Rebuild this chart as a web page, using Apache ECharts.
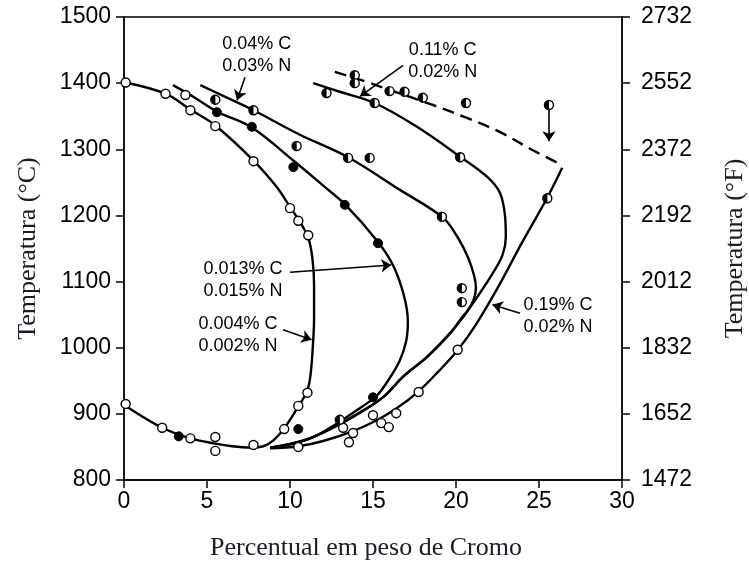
<!DOCTYPE html>
<html>
<head>
<meta charset="utf-8">
<script src="https://cdn.jsdelivr.net/npm/echarts@6/dist/echarts.min.js"></script>
<style>
  html, body { margin: 0; padding: 0; background: #fff; }
  #chart { width: 749px; height: 568px; }
</style>
</head>
<body>
<div id="chart"></div>
<script>
// Gamma-loop boundaries of Fe-Cr alloys: temperature (°C) vs. chromium content (wt %)

const xTicks = [0, 5, 10, 15, 20, 25, 30];
const celsiusTicks = [800, 900, 1000, 1100, 1200, 1300, 1400, 1500];
const fahrenheitTicks = [1472, 1652, 1832, 2012, 2192, 2372, 2552, 2732];

// 0.004% C, 0.002% N (includes the shared lower branch back to 0% Cr)
const curve004C = [
  [0.1, 1401], [2.5, 1384], [4.0, 1360], [5.5, 1336], [7.8, 1283], [9.2, 1243],
  [10.0, 1213], [10.6, 1190], [11.1, 1166], [11.35, 1135], [11.45, 1095],
  [11.45, 1045], [11.4, 1012], [11.25, 962], [11.05, 936], [10.5, 911],
  [9.65, 878], [9.0, 860], [8.4, 851], [7.6, 849], [6.5, 851], [5.5, 855],
  [4.0, 863], [2.3, 879], [0.1, 912]
];

// 0.013% C, 0.015% N
const curve013C = [
  [2.95, 1397], [4.2, 1379], [5.6, 1357], [7.7, 1333], [10.2, 1283], [12.0, 1245],
  [13.3, 1217], [15.3, 1160], [16.2, 1125], [16.85, 1080], [17.1, 1040],
  [17.0, 1010], [16.6, 980], [15.9, 950], [15.2, 927], [14.0, 905],
  [12.8, 885], [11.5, 866], [10.2, 855], [8.8, 849]
];

// 0.04% C, 0.03% N (merges into the 0.11% C branch below ~1085 °C)
const curve04C = [
  [4.6, 1397], [6.2, 1378], [7.8, 1359], [10.6, 1322], [13.5, 1288], [16.6, 1239],
  [19.2, 1197], [20.1, 1167], [20.75, 1135], [21.1, 1108], [21.2, 1090],
  [21.05, 1072], [20.7, 1056], [20.3, 1044], [19.7, 1023], [18.3, 987], [16.85, 957],
  [15.65, 926], [14.3, 903], [12.9, 883], [11.3, 864], [9.9, 854], [8.8, 849]
];

// 0.11% C, 0.02% N
const curve11C = [
  [11.4, 1400], [13.0, 1387], [15.1, 1370], [17.65, 1334], [20.24, 1289],
  [21.9, 1258], [22.65, 1234], [22.95, 1200], [23.0, 1167], [22.8, 1140],
  [22.2, 1112], [21.45, 1083], [20.42, 1046], [19.64, 1022], [18.25, 986],
  [16.8, 956], [15.6, 925], [14.2, 902], [12.8, 882], [11.2, 863],
  [9.8, 853], [8.8, 849]
];

// 0.19% C, 0.02% N: solid boundary and dashed upper estimate
const curve19C = [
  [26.4, 1272], [25.48, 1226], [24.0, 1160], [22.5, 1090], [21.2, 1035],
  [20.12, 997], [18.9, 963], [17.7, 933], [16.4, 908], [15.2, 890],
  [13.8, 874], [12.0, 859], [10.5, 851], [8.8, 848]
];
const curve19CUpper = [
  [12.7, 1417], [14.5, 1403], [16.2, 1388], [18.6, 1367], [20.7, 1347],
  [22.65, 1326], [24.6, 1299], [26.4, 1276]
];

// Measured points
const openPoints = [
  [0.1, 1401], [2.5, 1384], [3.7, 1382], [4.0, 1359], [5.5, 1335], [7.8, 1282],
  [10.0, 1211], [10.5, 1192], [11.1, 1170], [11.05, 932], [10.5, 912],
  [9.65, 877], [7.8, 853], [5.5, 865], [5.5, 844], [4.0, 863], [2.3, 879],
  [0.1, 915], [10.5, 850], [13.2, 879], [13.8, 871], [13.55, 857], [15.0, 898],
  [15.5, 886], [15.95, 880], [16.4, 901], [17.75, 933], [20.1, 997]
];
const filledPoints = [
  [3.3, 866], [5.6, 1356], [7.7, 1334], [10.2, 1273], [13.3, 1216],
  [15.3, 1158], [15.0, 925], [10.5, 877]
];
const halfPoints = [
  [5.5, 1375], [10.4, 1305], [7.8, 1359], [13.5, 1287], [14.8, 1287],
  [19.15, 1198], [20.35, 1090], [20.35, 1069], [12.2, 1385], [15.1, 1370],
  [20.25, 1288], [13.9, 1412], [13.9, 1400], [16.0, 1388], [16.9, 1387],
  [18.0, 1378], [20.6, 1370], [25.6, 1367], [25.5, 1226], [13.0, 891]
];

// Curve labels and their pointer arrows
const curveLabels = ['0.04% C\n0.03% N', '0.11% C\n0.02% N', '0.013% C\n0.015% N',
                     '0.004% C\n0.002% N', '0.19% C\n0.02% N'];
const labelAnchors = [[8.0, 1443], [19.2, 1433], [7.17, 1102], [6.87, 1019], [26.14, 1048]];
const arrowPaths = [
  [[7.29, 1409], [6.81, 1374]],
  [[16.81, 1427], [14.22, 1380]],
  [[10.0, 1114], [16.1, 1125]],
  [[9.58, 1027], [11.3, 1012]],
  [[23.86, 1052], [22.2, 1065]],
  [[25.6, 1362], [25.6, 1312]]
];

const ink = '#000';
const sans = 'Liberation Sans';
const serif = 'Liberation Serif';

function curve(data, dashed) {
  return {
    type: 'line', data: data, smooth: 0.35, showSymbol: false, silent: true, z: 2,
    lineStyle: { color: ink, width: 2.4, type: dashed ? [12, 7] : 'solid' }
  };
}

const chart = echarts.init(document.getElementById('chart'), null, { renderer: 'canvas' });
chart.setOption({
  animation: false,
  backgroundColor: '#fff',
  grid: { left: 124, right: 127, top: 17, bottom: 88, show: true, outerBoundsMode: 'none',
          containLabel: false, borderColor: ink, borderWidth: 1.3, backgroundColor: 'transparent' },
  xAxis: {
    type: 'value', min: xTicks[0], max: xTicks[xTicks.length - 1], interval: 5,
    name: 'Percentual em peso de Cromo', nameLocation: 'middle', nameGap: 55,
    nameTextStyle: { fontFamily: serif, fontSize: 26, color: '#1c1c24', padding: [0, 14, 0, 0] },
    axisLine: { lineStyle: { color: ink, width: 1.5 } },
    axisTick: { length: 8, lineStyle: { color: ink, width: 1.5 } },
    axisLabel: { margin: 10, fontFamily: sans, fontSize: 23, color: ink, formatter: v => String(v) },
    splitLine: { show: false }
  },
  yAxis: [
    {
      type: 'value', min: celsiusTicks[0], max: celsiusTicks[celsiusTicks.length - 1], interval: 100,
      name: 'Temperatura (°C)', nameLocation: 'middle', nameGap: 83,
      nameTextStyle: { fontFamily: serif, fontSize: 26, color: '#1c1c24' },
      axisLine: { show: true, lineStyle: { color: ink, width: 1.5 } },
      axisTick: { show: true, length: 8, lineStyle: { color: ink, width: 1.5 } },
      axisLabel: { margin: 13, fontFamily: sans, fontSize: 23, color: ink, formatter: v => String(v) },
      splitLine: { show: false }
    },
    {
      type: 'value', position: 'right',
      min: celsiusTicks[0], max: celsiusTicks[celsiusTicks.length - 1], interval: 100,
      name: 'Temperatura (°F)', nameLocation: 'middle', nameGap: 100,
      nameTextStyle: { fontFamily: serif, fontSize: 26, color: '#1c1c24' },
      axisLine: { show: true, lineStyle: { color: ink, width: 1.5 } },
      axisTick: { show: true, length: 8, lineStyle: { color: ink, width: 1.5 } },
      axisLabel: {
        margin: 19, fontFamily: sans, fontSize: 23, color: ink,
        formatter: v => String(fahrenheitTicks[celsiusTicks.indexOf(v)])
      },
      splitLine: { show: false }
    }
  ],
  series: [
    curve(curve004C), curve(curve013C), curve(curve04C), curve(curve11C),
    curve(curve19C), curve(curve19CUpper, true),
    {
      type: 'scatter', data: openPoints.concat(halfPoints), symbol: 'circle', symbolSize: 9, z: 3,
      itemStyle: { color: '#fff', borderColor: ink, borderWidth: 1.4, opacity: 1 }
    },
    {
      type: 'scatter', data: halfPoints, z: 4,
      symbol: 'path://M0,-10 A10,10 0 0,0 0,10 Z', symbolSize: [4.5, 9], symbolOffset: [-2.2, 0],
      itemStyle: { color: ink, opacity: 1 }
    },
    {
      type: 'scatter', data: filledPoints, symbol: 'circle', symbolSize: 9, z: 4,
      itemStyle: { color: ink, borderColor: ink, borderWidth: 1, opacity: 1 }
    },
    {
      type: 'lines', coordinateSystem: 'cartesian2d', z: 5, silent: true,
      symbol: ['none', 'arrow'], symbolSize: 10,
      lineStyle: { color: ink, width: 1.6, opacity: 1, curveness: 0 },
      data: arrowPaths.map(p => ({ coords: p }))
    },
    {
      type: 'scatter', z: 6, silent: true, symbolSize: 0,
      itemStyle: { opacity: 1 },
      data: labelAnchors.map((p, i) => ({ value: p, name: curveLabels[i] })),
      label: {
        show: true, position: 'inside', formatter: d => d.name,
        fontFamily: sans, fontSize: 18, lineHeight: 22, color: ink, align: 'center', opacity: 1
      }
    }
  ]
});
</script>
</body>
</html>
